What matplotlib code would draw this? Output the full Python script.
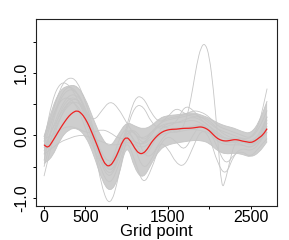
import matplotlib
matplotlib.use("Agg")
import matplotlib.pyplot as plt
from matplotlib.path import Path
from matplotlib.patches import PathPatch
import numpy as np

plt.rcParams['font.family'] = ['Liberation Sans', 'DejaVu Sans']

# grid points (coarse and fine)
grid = np.arange(0, 2701, 100)
grid_fine = np.arange(0, 2701, 50)

# mean curve (red)
mean_curve = [-0.15, -0.20, -0.10, 0.01, 0.12, 0.22, 0.31, 0.37, 0.40, 0.36,
              0.27, 0.14, -0.02, -0.18, -0.36, -0.48, -0.49, -0.40, -0.26, -0.09,
              -0.02, -0.09, -0.21, -0.29, -0.29, -0.22, -0.11, -0.03, 0.03, 0.07,
              0.09, 0.10, 0.10, 0.11, 0.115, 0.115, 0.12, 0.13, 0.14, 0.12,
              0.08, 0.01, -0.05, -0.08, -0.09, -0.08, -0.065, -0.07, -0.09, -0.10,
              -0.115, -0.09, -0.04, 0.01, 0.11]

# dense part of the band of curves
band_hi = [-0.02, 0.45, 0.74, 0.80, 0.80, 0.60, 0.25, -0.05, -0.20, 0.02,
           0.22, 0.15, 0.10, 0.15, 0.28, 0.32, 0.33, 0.35, 0.37, 0.33,
           0.28, 0.20, 0.15, 0.12, 0.06, 0.03, 0.20, 0.55]
band_lo = [-0.45, -0.35, -0.05, 0.10, 0.12, 0.0, -0.30, -0.72, -0.92, -0.70,
           -0.10, -0.55, -0.70, -0.45, -0.22, -0.15, -0.12, -0.10, -0.08, -0.08,
           -0.12, -0.25, -0.30, -0.28, -0.30, -0.35, -0.28, -0.10]

# curve with the big peak near 1950 (fine grid)
curve_peak = [-0.05, 0.10, 0.30, 0.45, 0.55, 0.60, 0.60, 0.55, 0.45, 0.30,
              0.12, -0.05, -0.20, -0.35, -0.45, -0.50, -0.45, -0.30, -0.10, 0.05,
              0.10, 0.02, -0.10, -0.15, -0.12, -0.05, 0.05, 0.12, 0.15, 0.15,
              0.12, 0.08, 0.05, 0.08, 0.18, 0.40, 0.75, 1.15, 1.42, 1.48,
              1.28, 0.75, 0.00, -0.88, -0.70, -0.40, -0.15, -0.05, -0.05, -0.08,
              -0.12, -0.10, -0.05, 0.05, 0.20]

# other visible curves (coarse grid)
curve_a = [-0.02, 0.35, 0.78, 0.94, 0.88, 0.55, 0.10, -0.35, -0.60, -0.40,
           0.05, 0.10, -0.10, 0.05, 0.20, 0.25, 0.28, 0.30, 0.35, 0.30,
           0.20, 0.10, 0.05, 0.00, -0.05, -0.05, 0.10, 0.40]
curve_b = [-0.10, 0.58, 0.86, 0.82, 0.60, 0.30, -0.05, -0.40, -0.55, -0.30,
           0.10, -0.10, -0.35, -0.20, 0.10, 0.20, 0.20, 0.25, 0.30, 0.25,
           0.15, 0.00, -0.05, -0.05, -0.10, -0.15, -0.05, 0.30]
curve_c = [-0.05, 0.00, 0.10, 0.15, 0.12, 0.05, 0.05, 0.10, 0.05, -0.05,
           -0.05, -0.10, -0.15, -0.05, 0.05, 0.10, 0.12, 0.12, 0.15, 0.15,
           0.10, -0.05, -0.10, -0.10, -0.10, -0.10, -0.05, 0.10]
curve_d = [-0.30, -0.20, -0.10, -0.05, 0.00, 0.00, -0.05, -0.10, -0.15, -0.15,
           -0.10, -0.15, -0.20, -0.10, 0.00, 0.05, 0.05, 0.08, 0.10, 0.08,
           0.05, -0.10, -0.15, -0.15, -0.15, -0.20, -0.10, 0.05]
curve_e = [-0.20, 0.10, 0.35, 0.55, 0.60, 0.40, 0.22, 0.40, 0.56, 0.44,
           0.20, 0.00, -0.05, 0.05, 0.15, 0.20, 0.20, 0.22, 0.25, 0.20,
           0.10, 0.00, -0.05, -0.05, -0.10, -0.15, -0.10, 0.05]
curve_f = [-0.40, 0.20, 0.60, 0.75, 0.70, 0.40, -0.10, -0.85, -1.15, -0.70,
           0.00, 0.10, -0.30, -0.35, -0.10, 0.05, 0.10, 0.10, 0.15, 0.18,
           0.10, -0.05, -0.12, -0.10, -0.15, -0.20, -0.10, 0.15]
curve_g = [-0.30, 0.00, 0.30, 0.50, 0.55, 0.40, 0.00, -0.40, -0.60, -0.35,
           0.15, 0.62, 0.62, 0.35, 0.20, 0.30, 0.45, 0.35, 0.30, 0.30,
           0.25, 0.10, 0.00, -0.05, -0.05, -0.10, 0.00, 0.30]
curve_h = [-0.25, 0.10, 0.45, 0.65, 0.65, 0.45, 0.05, -0.45, -0.65, -0.40,
           0.10, 0.48, 0.48, 0.20, 0.10, 0.15, 0.20, 0.48, 0.42, 0.25,
           0.15, 0.05, -0.05, -0.10, -0.10, -0.15, -0.05, 0.25]
curve_i = [-0.50, 0.00, 0.40, 0.60, 0.60, 0.35, -0.05, -0.50, -0.70, -0.40,
           0.00, -0.20, -0.55, -0.40, -0.10, -0.20, -0.45, -0.50, -0.20, 0.10,
           0.00, -0.45, -0.65, -0.30, -0.20, -0.25, -0.15, 0.10]
curve_j = [-0.65, -0.10, 0.30, 0.55, 0.50, 0.25, -0.15, -0.60, -0.80, -0.50,
           -0.05, -0.40, -0.80, -0.55, -0.15, 0.00, -0.10, -0.25, 0.00, 0.20,
           0.10, -0.20, -0.48, -0.30, -0.25, -0.35, -0.20, -0.05]
curve_k = [-0.15, 0.25, 0.65, 0.80, 0.70, 0.45, 0.05, -0.30, -0.45, -0.25,
           0.10, 0.05, -0.15, 0.00, 0.20, 0.28, 0.30, 0.33, 0.40, 0.38,
           0.30, 0.15, 0.10, 0.05, 0.00, -0.05, 0.15, 0.75]

other_curves = [curve_a, curve_b, curve_c, curve_d, curve_e, curve_f,
                curve_g, curve_h, curve_i, curve_j, curve_k]

x_ticks = [0, 500, 1000, 1500, 2000, 2500]
x_labels = ['0', '500', '', '1500', '', '2500']
y_ticks = [-1.0, -0.5, 0.0, 0.5, 1.0, 1.5]
y_labels = ['-1.0', '', '0.0', '', '1.0', '']


def smooth_verts(x, y):
    # quadratic bezier through midpoints, so the polyline looks smooth
    pts = np.column_stack([x, y]).astype(float)
    verts = [pts[0], (pts[0] + pts[1]) / 2]
    codes = [Path.MOVETO, Path.LINETO]
    for i in range(1, len(pts) - 1):
        verts += [pts[i], (pts[i] + pts[i + 1]) / 2]
        codes += [Path.CURVE3, Path.CURVE3]
    verts.append(pts[-1])
    codes.append(Path.LINETO)
    return verts, codes


def smooth_line(ax, x, y, **kw):
    verts, codes = smooth_verts(x, y)
    ax.add_patch(PathPatch(Path(verts, codes), fill=False, **kw))


fig = plt.figure(figsize=(2.89, 2.40), dpi=100)
ax = fig.add_axes([0.1246, 0.1417, 0.8339, 0.7792])

gray = '#c6c6c6'

# filled band
v_hi, c_hi = smooth_verts(grid, band_hi)
v_lo, c_lo = smooth_verts(grid[::-1], band_lo[::-1])
c_lo[0] = Path.LINETO
band_path = Path(v_hi + v_lo + [v_hi[0]], c_hi + c_lo + [Path.CLOSEPOLY])
ax.add_patch(PathPatch(band_path, facecolor='#cecece', edgecolor='none'))

smooth_line(ax, grid, band_hi, edgecolor=gray, lw=0.6)
smooth_line(ax, grid, band_lo, edgecolor=gray, lw=0.6)
for c in other_curves:
    smooth_line(ax, grid, c, edgecolor=gray, lw=0.6)
smooth_line(ax, grid_fine, curve_peak, edgecolor=gray, lw=0.6)

smooth_line(ax, grid_fine, mean_curve, edgecolor='#ee2222', lw=0.9, zorder=5)

ax.set_xlim(-97, 2820)
ax.set_ylim(-1.128, 1.864)
ax.set_xticks(x_ticks)
ax.set_xticklabels(x_labels)
ax.set_yticks(y_ticks)
ax.set_yticklabels(y_labels, rotation=90, va='center')
ax.tick_params(axis='both', length=2.5, width=0.7, labelsize=11.5)
ax.tick_params(axis='x', pad=0.5)
ax.tick_params(axis='y', pad=2.5)
ax.set_xlabel('Grid point', fontsize=12, labelpad=-1)
for s in ax.spines.values():
    s.set_linewidth(0.8)
    s.set_color('#222222')

fig.savefig('out.png', dpi=100)
